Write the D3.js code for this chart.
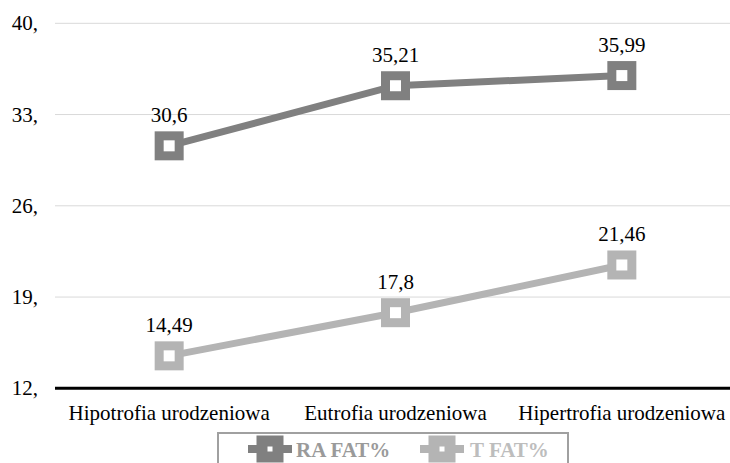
<!DOCTYPE html>
<html><head><meta charset="utf-8">
<script src="https://cdn.jsdelivr.net/npm/d3@7"></script>
<style>
html,body{margin:0;padding:0;background:#fff;}
</style></head>
<body>
<svg id="chart" width="730" height="463"></svg>
<script>
const categories = ["Hipotrofia urodzeniowa", "Eutrofia urodzeniowa", "Hipertrofia urodzeniowa"];
const seriesNames = ["RA FAT%", "T FAT%"];
const raValues = [30.6, 35.21, 35.99];
const tValues = [14.49, 17.8, 21.46];
const tickValues = [12, 19, 26, 33, 40];
const tickLabels = ["12,", "19,", "26,", "33,", "40,"];
const colors = ["#808080", "#b4b4b4"];
const FONT = '"Liberation Serif"';

const svg = d3.select("#chart");
const x = d3.scalePoint().domain(categories).range([56, 735]).padding(0.5);
const y = d3.scaleLinear().domain([12, 40]).range([388.3, 23.3]);
const fmt = v => String(v).replace(".", ",");

// gridlines
svg.append("g").selectAll("line").data(tickValues.filter(v => v !== 12)).join("line")
  .attr("x1", 55).attr("x2", 730)
  .attr("y1", d => y(d)).attr("y2", d => y(d))
  .attr("stroke", "#d9d9d9").attr("stroke-width", 1);

// tick labels
svg.append("g").selectAll("text").data(tickValues).join("text")
  .attr("x", 38).attr("y", d => y(d) + 7)
  .style("font-family", FONT)
  .attr("text-anchor", "end").attr("font-size", 21).attr("fill", "#000")
  .text((d, i) => tickLabels[i]);

// baseline axis
svg.append("line").attr("x1", 55).attr("x2", 730)
  .attr("y1", y(12)).attr("y2", y(12))
  .attr("stroke", "#000").attr("stroke-width", 3);

// category labels
svg.append("g").selectAll("text").data(categories).join("text")
  .attr("x", d => x(d)).attr("y", 420)
  .style("font-family", FONT)
  .attr("text-anchor", "middle").attr("font-size", 21).attr("fill", "#000")
  .text(d => d);

const seriesData = [raValues, tValues];
const line = d3.line().x((d, i) => x(categories[i])).y(d => y(d));

seriesData.forEach((vals, si) => {
  const g = svg.append("g");
  g.append("path").datum(vals).attr("d", line)
    .attr("fill", "none").attr("stroke", colors[si]).attr("stroke-width", 7);
  g.selectAll("rect").data(vals).join("rect")
    .attr("x", (d, i) => x(categories[i]) - 10).attr("y", d => y(d) - 10)
    .attr("width", 20).attr("height", 20)
    .attr("fill", "#fff").attr("stroke", colors[si]).attr("stroke-width", 9);
  g.selectAll("text").data(vals).join("text")
    .attr("x", (d, i) => x(categories[i])).attr("y", d => y(d) - 24)
    .style("font-family", FONT)
    .attr("text-anchor", "middle").attr("font-size", 21).attr("fill", "#000")
    .text(d => fmt(d));
});

// legend
const lg = svg.append("g");
lg.append("rect").attr("x", 218).attr("y", 433).attr("width", 350).attr("height", 40)
  .attr("fill", "#fff").attr("stroke", "#a0a0a0").attr("stroke-width", 2);
const legendItems = [{x: 248, tx: 296}, {x: 420, tx: 470}];
legendItems.forEach((it, i) => {
  const cy = 449;
  lg.append("line").attr("x1", it.x).attr("x2", it.x + 44).attr("y1", cy).attr("y2", cy)
    .attr("stroke", colors[i]).attr("stroke-width", 8);
  lg.append("rect").attr("x", it.x + 22 - 8).attr("y", cy - 8).attr("width", 16).attr("height", 16)
    .attr("fill", "#fff").attr("stroke", colors[i]).attr("stroke-width", 11);
  lg.append("text").attr("x", it.tx).attr("y", cy + 8)
    .style("font-family", FONT)
    .attr("font-size", 21).attr("font-weight", "bold").attr("fill", i === 0 ? "#9a9a9a" : "#bdbdbd")
    .text(seriesNames[i]);
});
</script>
</body></html>
